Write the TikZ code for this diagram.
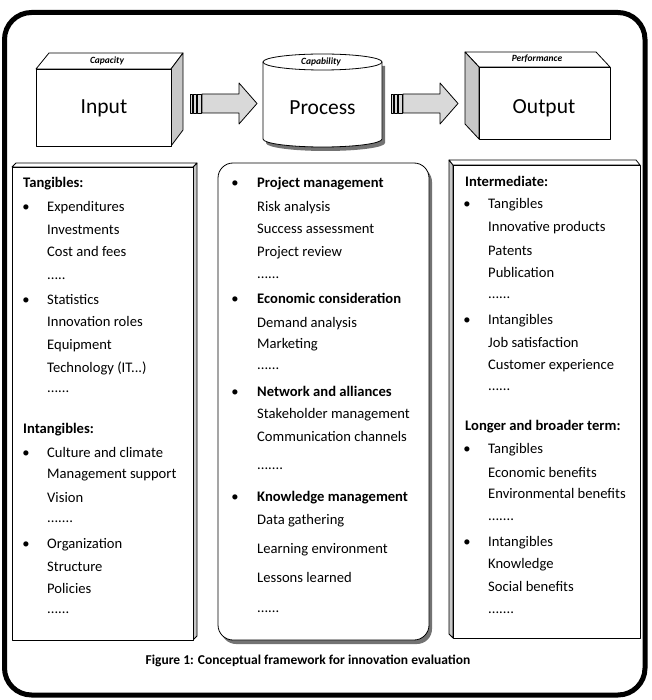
\documentclass[tikz,border=0pt]{standalone}
\usepackage{fontspec}
\setmainfont{Carlito}
\usepackage{tikz}
\usetikzlibrary{positioning}

\definecolor{sidegray}{gray}{0.78}
\definecolor{arrowgray}{gray}{0.85}
\definecolor{shadowgray}{gray}{0.45}

\newcommand{\dfive}{.....}
\newcommand{\dsix}{......}
\newcommand{\dseven}{.......}
\newcommand{\techit}{Technology (IT\dotsrow)}
\newcommand{\dotsrow}{...}

\begin{document}
\begin{tikzpicture}[x=1pt,y=-1pt,
  edge/.style={draw=black,line width=0.8pt,line join=round},
  side/.style={edge,fill=sidegray},
  txt/.style={anchor=base west,inner sep=0pt,font=\fontsize{14.6}{17}\selectfont},
  head/.style={txt,font=\fontsize{14.6}{17}\selectfont\bfseries},
  bul/.style={anchor=base,inner sep=0pt,font=\fontsize{14.6}{17}\selectfont},
  big/.style={inner sep=0pt,font=\fontsize{21.5}{24}\selectfont},
  tag/.style={inner sep=0pt,font=\fontsize{9.5}{11}\selectfont\bfseries\itshape}]

\useasboundingbox (0,0) rectangle (651,700);

%frame
\draw[line width=5pt,rounded corners=27pt] (4.5,12.5) rectangle (645,695);

%input box
\draw[edge,fill=white] (36,69) -- (49,53) -- (183,53) -- (171,69) -- cycle;
\draw[side] (171,69) -- (183,53) -- (183,130) -- (171,146) -- cycle;
\draw[edge,fill=white] (36,69) rectangle (171,146);
\node[tag] (capacity) at (107,61) {Capacity};
\node[big] (input) at (104,108) {Input};

%process cylinder
\fill[shadowgray] (266,66) -- (266,143) arc[start angle=180,end angle=360,x radius=59.5pt,y radius=8pt] -- (385,66) -- cycle;
\draw[edge,fill=white] (263,62) -- (263,139) arc[start angle=180,end angle=360,x radius=59.5pt,y radius=8pt] -- (382,62) -- cycle;
\draw[edge,fill=white] (322.5,62) ellipse [x radius=59.5pt,y radius=8pt];
\node[tag] (capability) at (321,62) {Capability};
\node[big] (process) at (322.5,108) {Process};

%output box
\draw[edge,fill=white] (479,67) -- (465,52) -- (596,52) -- (610,67) -- cycle;
\draw[side] (465,52) -- (479,67) -- (479,139) -- (465,124) -- cycle;
\draw[edge,fill=white] (479,67) rectangle (610,139);
\node[tag] (performance) at (537,59) {Performance};
\node[big] (output) at (544,108) {Output};

%striped arrows
\foreach \s in {190,391}{
  \draw[edge,fill=arrowgray] (\s+12,94) -- (\s+49,94) -- (\s+49,83) -- (\s+67,103.5)
    -- (\s+49,124) -- (\s+49,113) -- (\s+12,113) -- cycle;
  \draw[edge,fill=arrowgray] (\s,94) rectangle (\s+2,113);
  \draw[edge,fill=arrowgray] (\s+3.5,94) rectangle (\s+6,113);
  \draw[edge,fill=arrowgray] (\s+7.5,94) rectangle (\s+11,113);
}

%columns
\draw[side] (193,167) -- (197,163) -- (197,636) -- (193,640) -- cycle;
\draw[edge,fill=white] (12,167) -- (16,163) -- (197,163) -- (193,167) -- cycle;
\draw[edge,fill=white] (12,167) rectangle (193,640);

\fill[shadowgray,rounded corners=15pt] (221,167) rectangle (432,644);
\draw[edge,fill=white,rounded corners=15pt] (218,163) rectangle (429,640);

\draw[side] (449,160) -- (453,165) -- (453,638) -- (449,634) -- cycle;
\draw[edge,fill=white] (449,160) -- (636,160) -- (640,165) -- (453,165) -- cycle;
\draw[edge,fill=white] (453,165) rectangle (640,638);

%input list
\node[head] (tangin) at (23,188) {Tangibles:};
\node[head] (intangin) at (23,433) {Intangibles:};
\foreach \y in {212,304,457,548}
\node[bul] (inb-\y) at (26,\y) {\textbullet};
\foreach \y/\t in {212/Expenditures,235/Investments,257/Cost and fees,279/\dfive,
  304/Statistics,326/Innovation roles,349/Equipment,372/\techit,392/\dsix,
  457/Culture and climate,478/Management support,502/Vision,522/\dseven,
  548/Organization,571/Structure,593/Policies,613/\dsix}
\node[txt] (in-\y) at (47,\y) {\t};

%process list
\foreach \y/\t in {188/Project management,303/Economic consideration,
  396/Network and alliances,501/Knowledge management}{
  \node[bul] (prb-\y) at (235,\y) {\textbullet};
  \node[head] (prh-\y) at (257,\y) {\t};
}
\foreach \y/\t in {212/Risk analysis,234/Success assessment,257/Project review,278/\dsix,
  327/Demand analysis,348/Marketing,369/\dsix,
  418/Stakeholder management,441/Communication channels,469/\dseven,
  524/Data gathering,553/Learning environment,582/Lessons learned,612/\dsix}
\node[txt] (pr-\y) at (257,\y) {\t};

%output list
\node[head] (interm) at (465,187) {Intermediate:};
\node[head] (longer) at (465,430) {Longer and broader term:};
\foreach \y in {209,324,453,546}
\node[bul] (outb-\y) at (467,\y) {\textbullet};
\foreach \y/\t in {209/Tangibles,232/Innovative products,255/Patents,277/Publication,298/\dsix,
  324/Intangibles,347/Job satisfaction,369/Customer experience,390/\dsix,
  453/Tangibles,477/Economic benefits,498/Environmental benefits,520/\dseven,
  546/Intangibles,568/Knowledge,591/Social benefits,613/\dseven}
\node[txt] (out-\y) at (488,\y) {\t};

%caption
\node[inner sep=0pt,font=\fontsize{13.5}{16}\selectfont\bfseries] (caption) at (308,661)
  {Figure 1: Conceptual framework for innovation evaluation};

\end{tikzpicture}
\end{document}
